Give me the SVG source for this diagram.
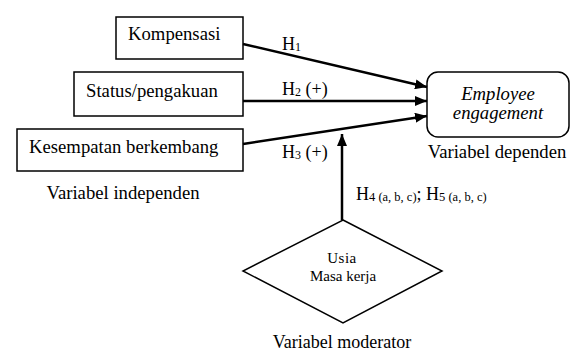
<svg xmlns="http://www.w3.org/2000/svg" width="571" height="354" viewBox="0 0 571 354" font-family="'Liberation Serif', 'Times New Roman', serif">
<style>
.box{fill:#fff;stroke:#000;stroke-width:1.5}
.lbl{font-size:18.7px}
.hl{font-size:18px}
.sub{font-size:12px}
.con{stroke:#000;stroke-width:2.5;fill:none}
</style>
<defs>
<marker id="ah" viewBox="0 0 12 10" refX="12" refY="5" markerWidth="12" markerHeight="10" markerUnits="userSpaceOnUse" orient="auto">
<path d="M0,0 L12,5 L0,10 z" fill="#000"/>
</marker>
</defs>
<rect width="571" height="354" fill="#fff"/>
<g id="kompensasi">
<rect class="box" x="116" y="17" width="127" height="42"/>
<text class="lbl" x="128" y="40">Kompensasi</text>
</g>
<g id="status">
<rect class="box" x="74" y="72" width="169" height="44"/>
<text class="lbl" x="86" y="97">Status/pengakuan</text>
</g>
<g id="kesempatan">
<rect class="box" x="17" y="129" width="226" height="42"/>
<text class="lbl" x="29" y="153">Kesempatan berkembang</text>
</g>
<g id="engagement">
<rect class="box" x="427" y="72" width="142" height="65" rx="11" ry="11"/>
<text class="lbl" x="498" y="100" text-anchor="middle" font-style="italic">Employee</text>
<text class="lbl" x="498" y="119" text-anchor="middle" font-style="italic">engagement</text>
</g>
<g id="moderator">
<polygon class="box" points="343,220 442,271 343,323 243,271"/>
<text x="342" y="263" font-size="15" text-anchor="middle" letter-spacing="0.5">Usia</text>
<text x="343" y="281" font-size="15" text-anchor="middle">Masa kerja</text>
</g>
<g id="labels">
<text class="lbl" x="123" y="199" text-anchor="middle">Variabel independen</text>
<text class="lbl" x="497" y="158" text-anchor="middle">Variabel dependen</text>
<text class="hl" x="342" y="348" text-anchor="middle">Variabel moderator</text>
</g>
<g id="connectors">
<line class="con" x1="243" y1="44" x2="427" y2="87" marker-end="url(#ah)"/>
<line class="con" x1="243" y1="101" x2="427" y2="101" marker-end="url(#ah)"/>
<line class="con" x1="243" y1="144" x2="427" y2="116" marker-end="url(#ah)"/>
<line class="con" x1="342" y1="220" x2="342" y2="134" marker-end="url(#ah)"/>
<text class="hl" x="282" y="50">H<tspan class="sub" dy="1">1</tspan></text>
<text class="hl" x="282" y="95">H<tspan class="sub" dy="1">2</tspan><tspan dy="-1"> (+)</tspan></text>
<text class="hl" x="282" y="158">H<tspan class="sub" dy="1">3</tspan><tspan dy="-1"> (+)</tspan></text>
<text class="hl" x="356" y="200">H<tspan font-size="12.5" dy="1">4 (a, b, c)</tspan><tspan dy="-1">; H</tspan><tspan font-size="12.5" dy="1">5 (a, b, c)</tspan></text>
</g>
</svg>
